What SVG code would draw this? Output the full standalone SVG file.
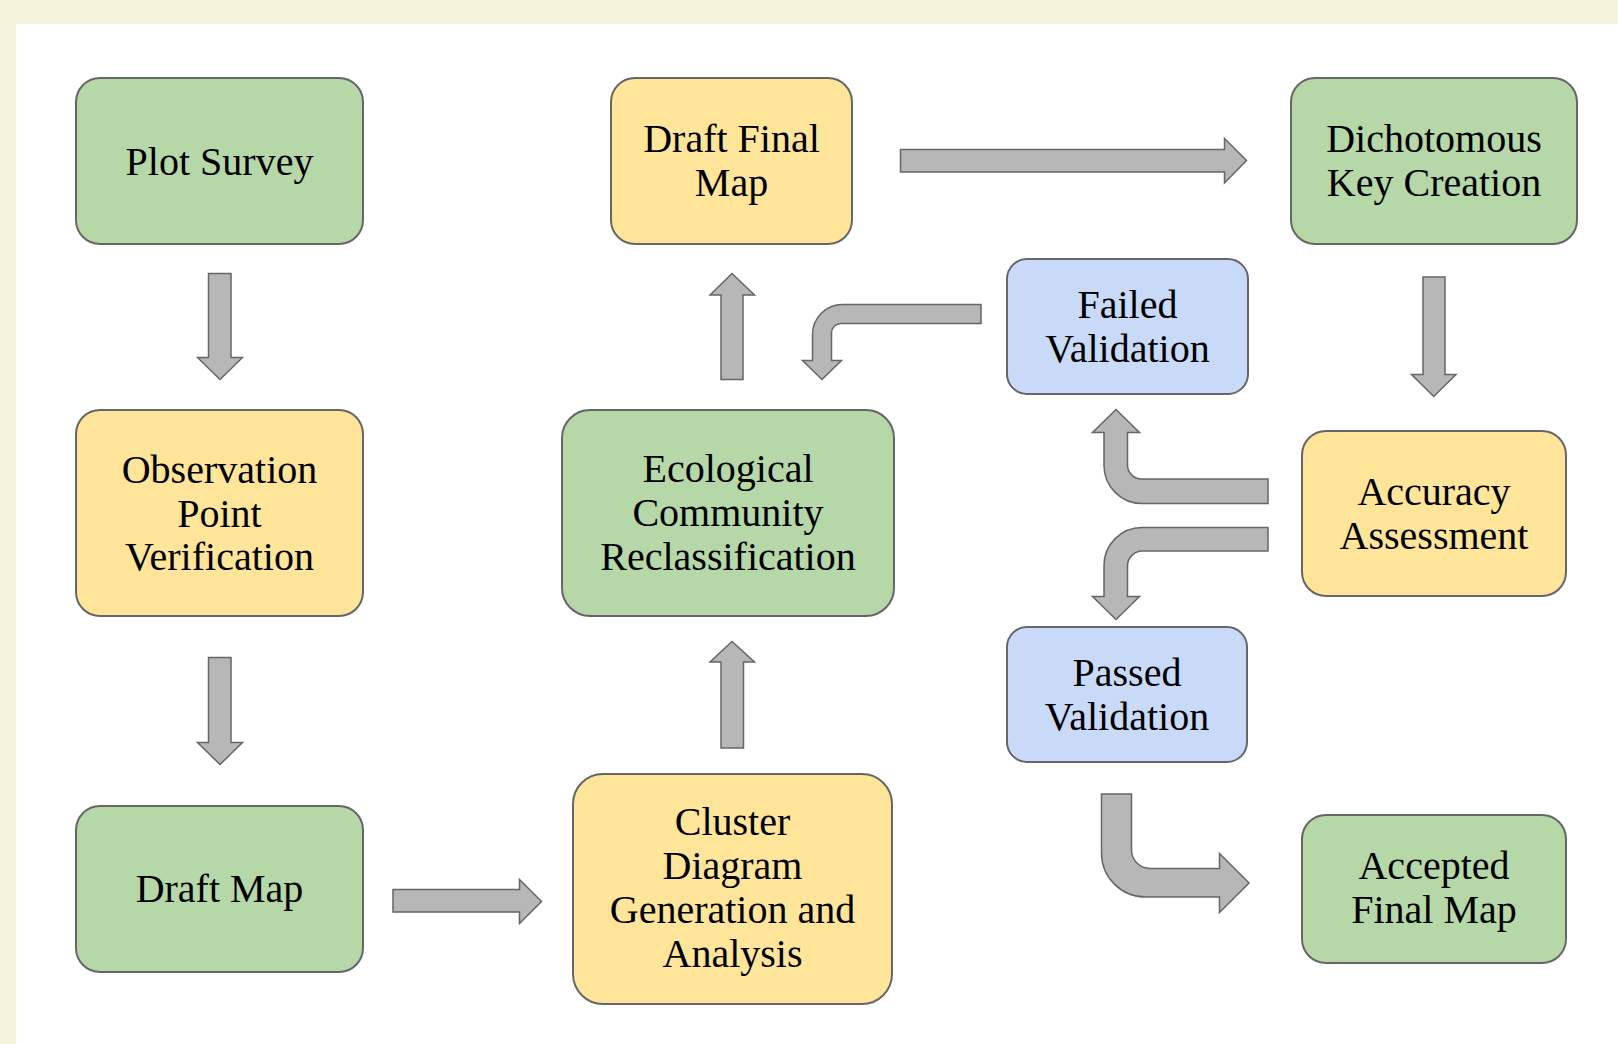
<svg xmlns="http://www.w3.org/2000/svg" width="1618" height="1044" viewBox="0 0 1618 1044">
<style>
.bg{fill:#F5F3DC}
.panel{fill:#FFFFFF}
.node{stroke:#666666;stroke-width:2}
.green{fill:#B6D7A8}
.yellow{fill:#FFE599}
.blue{fill:#C9DAF8}
.lbl{font-family:"Liberation Serif","Times New Roman",serif;font-size:40px;fill:#000000;text-anchor:middle}
.arrow{fill:#B7B7B7;stroke:#666666;stroke-width:1.5;stroke-linejoin:miter}
</style>
<rect class="bg" x="0" y="0" width="1618" height="1044"/>
<rect class="panel" x="16" y="24" width="1602" height="1020"/>

<g id="connectors">
<path id="a1" class="arrow" d="M208.5,273.5 H231 V357.5 H242.5 L220,379.5 L197.5,357.5 H208.5 Z"/>
<path id="a2" class="arrow" d="M208.5,657.5 H231 V742.5 H242.5 L220,764.5 L197.5,742.5 H208.5 Z"/>
<path id="a3" class="arrow" d="M393,889.5 H519.5 V879.5 L541.5,901.5 L519.5,923.5 V912 H393 Z"/>
<path id="a4" class="arrow" d="M721,748 V662 H710 L732,641.5 L754.5,662 H743.5 V748 Z"/>
<path id="a5" class="arrow" d="M721,379.5 V295 H710 L732,273.5 L754.5,295 H743 V379.5 Z"/>
<path id="a6" class="arrow" d="M900.5,149.5 H1224.5 V138.5 L1246.5,160.5 L1224.5,183 V172 H900.5 Z"/>
<path id="a7" class="arrow" d="M1423,277 H1445 V374.5 H1456 L1433.7,396.5 L1411.5,374.5 H1423 Z"/>
<path id="a8" class="arrow" d="M981,304.5 H842.5 A30,30 0 0 0 812.5,334.5 V360.5 H802.5 L822,379.5 L841.5,360.5 H831.5 V333 A9.5,9.5 0 0 1 841,323.5 H981 Z"/>
<path id="a9" class="arrow" d="M1268,479 H1141.5 A14,14 0 0 1 1127.5,465 V432.5 H1139.5 L1116,409.5 L1092.5,432.5 H1104 V465.5 A38,38 0 0 0 1142,503.5 H1268 Z"/>
<path id="a10" class="arrow" d="M1268,527.5 H1142 A38,38 0 0 0 1104,565.5 V596.5 H1092.5 L1116,619.5 L1139.5,596.5 H1127.5 V566 A15,15 0 0 1 1142.5,551 H1268 Z"/>
<path id="a11" class="arrow" d="M1101.5,794 H1131.5 V850 A18.5,18.5 0 0 0 1150,868.5 H1219.5 V853.5 L1249,883 L1219.5,912.5 V897 H1145.5 A44,44 0 0 1 1101.5,853 Z"/>
</g>

<g id="plot-survey">
<rect class="node green" x="76" y="78" width="287" height="166" rx="24"/>
<text class="lbl" x="219.5" y="175">Plot Survey</text>
</g>
<g id="observation-point-verification">
<rect class="node yellow" x="76" y="410" width="287" height="206" rx="24"/>
<text class="lbl" x="219.5" y="483">Observation</text>
<text class="lbl" x="219.5" y="526.5">Point</text>
<text class="lbl" x="219.5" y="570">Verification</text>
</g>
<g id="draft-map">
<rect class="node green" x="76" y="806" width="287" height="166" rx="24"/>
<text class="lbl" x="219.5" y="902">Draft Map</text>
</g>
<g id="draft-final-map">
<rect class="node yellow" x="611" y="78" width="241" height="166" rx="24"/>
<text class="lbl" x="731.5" y="152">Draft Final</text>
<text class="lbl" x="731.5" y="196">Map</text>
</g>
<g id="ecological-community-reclassification">
<rect class="node green" x="562" y="410" width="332" height="206" rx="28"/>
<text class="lbl" x="728" y="482">Ecological</text>
<text class="lbl" x="728" y="525.5">Community</text>
<text class="lbl" x="728" y="569.5">Reclassification</text>
</g>
<g id="cluster-diagram">
<rect class="node yellow" x="573" y="774" width="319" height="230" rx="30"/>
<text class="lbl" x="732.5" y="835">Cluster</text>
<text class="lbl" x="732.5" y="879">Diagram</text>
<text class="lbl" x="732.5" y="923">Generation and</text>
<text class="lbl" x="732.5" y="967">Analysis</text>
</g>
<g id="dichotomous-key-creation">
<rect class="node green" x="1291" y="78" width="286" height="166" rx="24"/>
<text class="lbl" x="1434" y="152">Dichotomous</text>
<text class="lbl" x="1434" y="196">Key Creation</text>
</g>
<g id="failed-validation">
<rect class="node blue" x="1007" y="259" width="241" height="135" rx="20"/>
<text class="lbl" x="1127.5" y="318">Failed</text>
<text class="lbl" x="1127.5" y="362">Validation</text>
</g>
<g id="accuracy-assessment">
<rect class="node yellow" x="1302" y="431" width="264" height="165" rx="24"/>
<text class="lbl" x="1434" y="505">Accuracy</text>
<text class="lbl" x="1434" y="549">Assessment</text>
</g>
<g id="passed-validation">
<rect class="node blue" x="1007" y="627" width="240" height="135" rx="20"/>
<text class="lbl" x="1127" y="686">Passed</text>
<text class="lbl" x="1127" y="730">Validation</text>
</g>
<g id="accepted-final-map">
<rect class="node green" x="1302" y="815" width="264" height="148" rx="24"/>
<text class="lbl" x="1434" y="879">Accepted</text>
<text class="lbl" x="1434" y="923">Final Map</text>
</g>
</svg>
